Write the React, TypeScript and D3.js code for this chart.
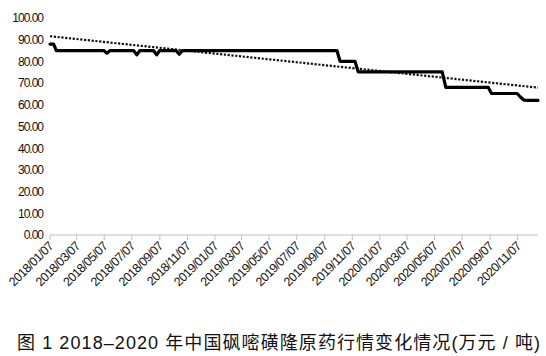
import React from "react";
import * as d3 from "d3";

const priceDates = [
  "2018-01-07", "2018-01-15", "2018-01-21",
  "2018-05-06", "2018-05-13", "2018-05-20",
  "2018-07-11", "2018-07-18", "2018-07-25",
  "2018-08-24", "2018-08-31", "2018-09-07",
  "2018-10-13", "2018-10-20", "2018-10-27",
  "2019-10-04", "2019-10-11",
  "2019-11-13", "2019-11-20",
  "2020-05-24", "2020-06-01",
  "2020-09-03", "2020-09-10",
  "2020-11-06", "2020-11-13", "2020-11-20", "2020-11-27",
  "2020-12-22",
];
const priceValues = [
  88, 88, 85,
  85, 83.8, 85,
  85, 83, 85,
  85, 83, 85,
  85, 83.3, 85,
  85, 80,
  80, 75.2,
  75.2, 68,
  68, 65.2,
  65.2, 63.6, 62.3, 62,
  62,
];
const trendDates = ["2018-01-07", "2020-12-22"];
const trendValues = [91.6, 67.9];

const xTickLabels = [
  "2018/01/07", "2018/03/07", "2018/05/07", "2018/07/07", "2018/09/07", "2018/11/07",
  "2019/01/07", "2019/03/07", "2019/05/07", "2019/07/07", "2019/09/07", "2019/11/07",
  "2020/01/07", "2020/03/07", "2020/05/07", "2020/07/07", "2020/09/07", "2020/11/07",
];
const yTicks = [0, 10, 20, 30, 40, 50, 60, 70, 80, 90, 100];
const caption = "图 1  2018–2020 年中国砜嘧磺隆原药行情变化情况(万元 / 吨)";

const parseIso = d3.utcParse("%Y-%m-%d");
const parseLabel = d3.utcParse("%Y/%m/%d");

export default function App() {
  const x = d3
    .scaleUtc()
    .domain([parseIso("2018-01-07")!, parseIso("2020-12-22")!])
    .range([50, 538]);
  const y = d3.scaleLinear().domain([0, 100]).range([235, 18]);

  const pts = priceDates.map((d, i) => ({ d: parseIso(d)!, v: priceValues[i] }));
  const trend = trendDates.map((d, i) => ({ d: parseIso(d)!, v: trendValues[i] }));
  const line = d3
    .line<{ d: Date; v: number }>()
    .x((p) => x(p.d))
    .y((p) => y(p.v));

  const font = "'Liberation Sans', Arial, sans-serif";
  const axisY = y(0);

  return (
    <svg
      width={546}
      height={356}
      style={{ position: "absolute", left: 0, top: 0, background: "#fff" }}
    >
      <rect width={546} height={356} fill="#fff" />
      {yTicks.map((t) => (
        <text
          key={t}
          x={43}
          y={y(t)}
          dy="0.36em"
          textAnchor="end"
          fontFamily={font}
          fontSize={12}
          letterSpacing={-1}
          fill="#111"
        >
          {t.toFixed(2)}
        </text>
      ))}
      <line x1={x.range()[0]} x2={x.range()[1]} y1={axisY} y2={axisY} stroke="#bfbfbf" strokeWidth={1} />
      {xTickLabels.map((l) => {
        const tx = x(parseLabel(l)!);
        return (
          <g key={l}>
            <line x1={tx} x2={tx} y1={axisY} y2={axisY + 5} stroke="#bfbfbf" strokeWidth={1} />
            <text
              transform={`translate(${tx + 4},${axisY + 12}) rotate(-45)`}
              textAnchor="end"
              fontFamily={font}
              fontSize={12.5}
              letterSpacing={-0.6}
              fill="#111"
            >
              {l}
            </text>
          </g>
        );
      })}
      <path
        d={line(trend) || ""}
        fill="none"
        stroke="#111"
        strokeWidth={2.2}
        strokeDasharray="2.2,1.6"
      />
      <path
        d={line(pts) || ""}
        fill="none"
        stroke="#000"
        strokeWidth={3.2}
        strokeLinejoin="round"
        strokeLinecap="round"
      />
      <text
        x={17}
        y={349}
        fontFamily={"'Liberation Sans', 'Noto Sans CJK SC', sans-serif"}
        fontSize={18}
        textLength={523}
        lengthAdjust="spacing"
        fill="#111"
      >
        {caption}
      </text>
    </svg>
  );
}
